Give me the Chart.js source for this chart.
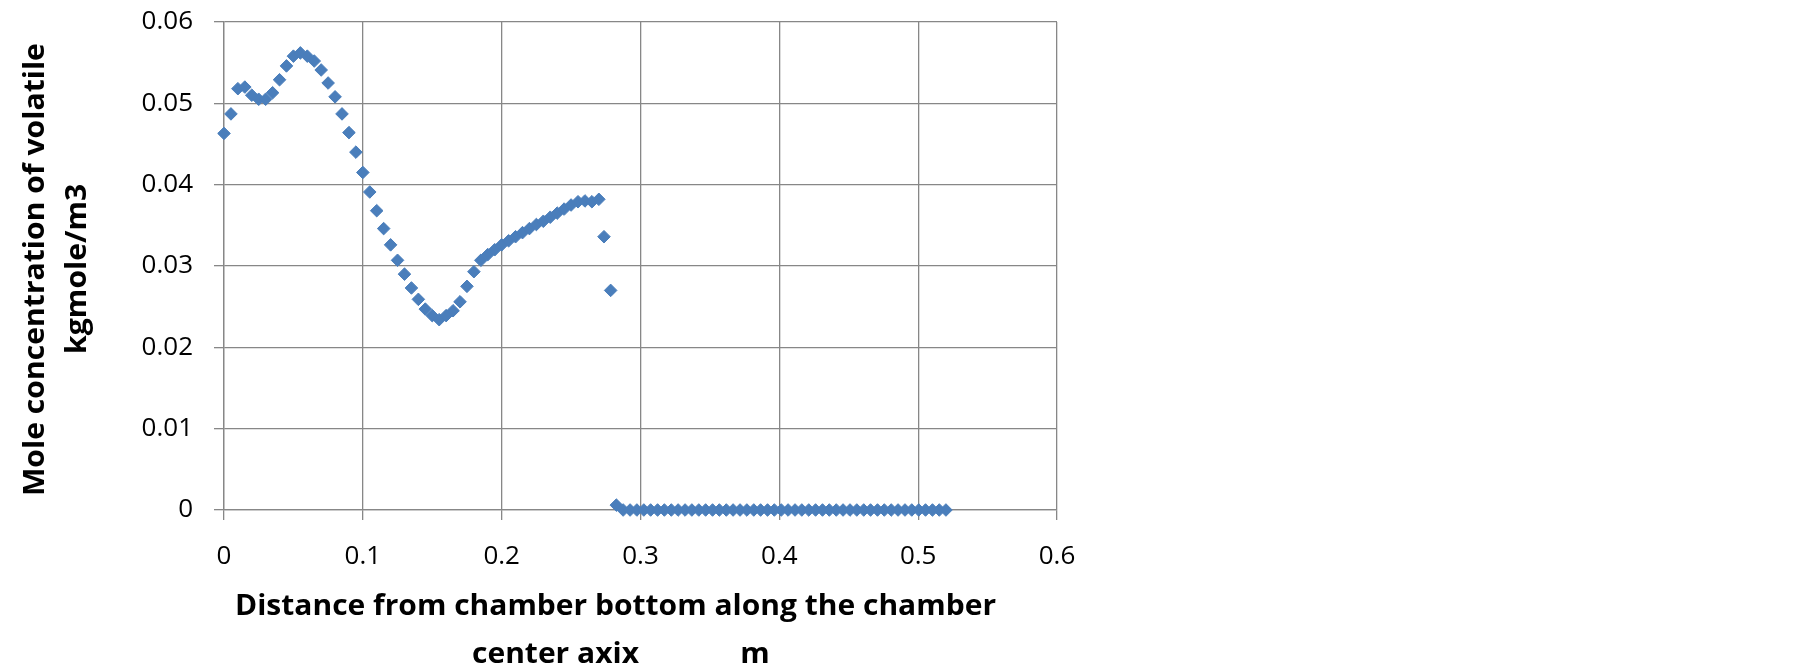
<!DOCTYPE html>
<html>
<head>
<meta charset="utf-8">
<title>Mole concentration of volatile</title>
<script src="https://cdn.jsdelivr.net/npm/chart.js@4.4.1/dist/chart.umd.min.js"></script>
<style>
  html, body { margin: 0; padding: 0; background: #fff; }
  #chart { display: block; }
</style>
</head>
<body>
<canvas id="chart" width="1805" height="665"></canvas>
<script>
// distance from chamber bottom along the center axis (m)
const distance = [
  0, 0.005, 0.01, 0.015, 0.02, 0.025, 0.03, 0.035, 0.04, 0.045,
  0.05, 0.055, 0.06, 0.065, 0.07, 0.075, 0.08, 0.085, 0.09, 0.095,
  0.1, 0.105, 0.11, 0.115, 0.12, 0.125, 0.13, 0.135, 0.14, 0.145,
  0.15, 0.155, 0.16, 0.165, 0.17, 0.175, 0.18, 0.185, 0.19, 0.195,
  0.2, 0.205, 0.21, 0.215, 0.22, 0.225, 0.23, 0.235, 0.24, 0.245,
  0.25, 0.255, 0.26, 0.265, 0.27, 0.2737, 0.2785, 0.2826,
  0.2875, 0.2925, 0.2974, 0.3024, 0.3073, 0.3123, 0.3172, 0.3222, 0.3271, 0.3321,
  0.3370, 0.3420, 0.3469, 0.3519, 0.3568, 0.3618, 0.3667, 0.3717, 0.3766, 0.3816,
  0.3865, 0.3915, 0.3964, 0.4014, 0.4063, 0.4113, 0.4162, 0.4212, 0.4261, 0.4311,
  0.4360, 0.4410, 0.4459, 0.4509, 0.4558, 0.4608, 0.4657, 0.4707, 0.4756, 0.4806,
  0.4855, 0.4905, 0.4954, 0.5004, 0.5053, 0.5103, 0.5152, 0.5200
];

// mole concentration of volatile (kgmole/m3)
const concentration = [
  0.0463, 0.0487, 0.0518, 0.0520, 0.0510, 0.0505, 0.0505, 0.0513, 0.0529, 0.0546,
  0.0558, 0.0562, 0.0558, 0.0552, 0.0541, 0.0525, 0.0508, 0.0487, 0.0464, 0.0440,
  0.0415, 0.0391, 0.0368, 0.0346, 0.0326, 0.0307, 0.0290, 0.0273, 0.0259, 0.0247,
  0.0239, 0.0234, 0.0239, 0.0245, 0.0256, 0.0275, 0.0293, 0.0307, 0.0314, 0.0320,
  0.0326, 0.0331, 0.0336, 0.0341, 0.0346, 0.0351, 0.0355, 0.0360, 0.0365, 0.0370,
  0.0375, 0.0379, 0.0380, 0.0379, 0.0382, 0.0336, 0.0270, 0.0006,
  0, 0, 0, 0, 0, 0, 0, 0, 0, 0,
  0, 0, 0, 0, 0, 0, 0, 0, 0, 0,
  0, 0, 0, 0, 0, 0, 0, 0, 0, 0,
  0, 0, 0, 0, 0, 0, 0, 0, 0, 0,
  0, 0, 0, 0, 0, 0, 0, 0
];

const xTicks = [0, 0.1, 0.2, 0.3, 0.4, 0.5, 0.6];
const yTicks = [0, 0.01, 0.02, 0.03, 0.04, 0.05, 0.06];

const xTitle = ['Distance from chamber bottom along the chamber', 'center axix             m'];
const yTitle = ['Mole concentration of volatile', 'kgmole/m3'];

const points = distance.map((d, i) => ({ x: d, y: concentration[i] }));

const gridColor = '#878787';
const tickFont = { family: '"Open Sans", sans-serif', size: 26 };

// axis titles are drawn by hand so each line sits where the original put it
const axisTitles = {
  id: 'axisTitles',
  afterDraw(chart) {
    const ctx = chart.ctx;
    ctx.save();
    ctx.fillStyle = '#000';
    ctx.font = 'bold 28px "Open Sans", sans-serif';
    ctx.textBaseline = 'alphabetic';

    // x title, two lines, stretched to the original width
    const sx = 761 / ctx.measureText(xTitle[0]).width;
    ctx.textAlign = 'left';
    ctx.save();
    ctx.translate(235, 615);
    ctx.scale(sx, 1);
    ctx.fillText(xTitle[0], 0, 0);
    ctx.restore();
    ctx.save();
    ctx.translate(472, 663);
    ctx.scale(sx, 1);
    ctx.fillText(xTitle[1], 0, 0);
    ctx.restore();

    // y title, rotated
    const sy = 453 / ctx.measureText(yTitle[0]).width;
    ctx.textAlign = 'center';
    ctx.save();
    ctx.translate(44, 269.6);
    ctx.rotate(-Math.PI / 2);
    ctx.scale(sy, 1);
    ctx.fillText(yTitle[0], 0, 0);
    ctx.restore();
    ctx.save();
    ctx.translate(86, 268.8);
    ctx.rotate(-Math.PI / 2);
    ctx.scale(sy, 1);
    ctx.fillText(yTitle[1], 0, 0);
    ctx.restore();

    ctx.restore();
  }
};

new Chart(document.getElementById('chart'), {
  type: 'scatter',
  data: {
    datasets: [{
      label: 'Mole concentration',
      data: points,
      clip: false, // markers on the axes are drawn whole
      pointStyle: 'rectRot',
      pointRadius: 6.3,
      pointBackgroundColor: '#4A7EBB',
      pointBorderColor: '#4A7EBB',
      pointBorderWidth: 1
    }]
  },
  options: {
    responsive: false,
    animation: false,
    devicePixelRatio: 1,
    layout: { padding: { left: 0, top: 22, right: 748, bottom: 0 } },
    plugins: {
      legend: { display: false },
      tooltip: { enabled: false }
    },
    scales: {
      x: {
        type: 'linear',
        min: 0,
        max: 0.6,
        afterBuildTicks: (scale) => { scale.ticks = xTicks.map(v => ({ value: v })); },
        afterFit: (scale) => { scale.height = 155; },
        grid: { color: gridColor, lineWidth: 1.3, tickLength: 10 },
        border: { color: gridColor, width: 1.3 },
        ticks: {
          font: tickFont,
          color: '#000',
          padding: 21,
          maxRotation: 0,
          callback: (v) => String(Number(v.toFixed(2)))
        }
      },
      y: {
        type: 'linear',
        min: 0,
        max: 0.06,
        afterBuildTicks: (scale) => { scale.ticks = yTicks.map(v => ({ value: v })); },
        afterFit: (scale) => {
          scale.width = 224;
          // the label padding would push the plot down; the layout padding handles it
          scale.paddingTop = 0;
          scale.paddingBottom = 0;
        },
        grid: { color: gridColor, lineWidth: 1.3, tickLength: 10 },
        border: { color: gridColor, width: 1.3 },
        ticks: {
          font: tickFont,
          color: '#000',
          padding: 21,
          callback: (v) => String(Number(v.toFixed(2)))
        }
      }
    }
  },
  plugins: [axisTitles]
});
</script>
</body>
</html>
